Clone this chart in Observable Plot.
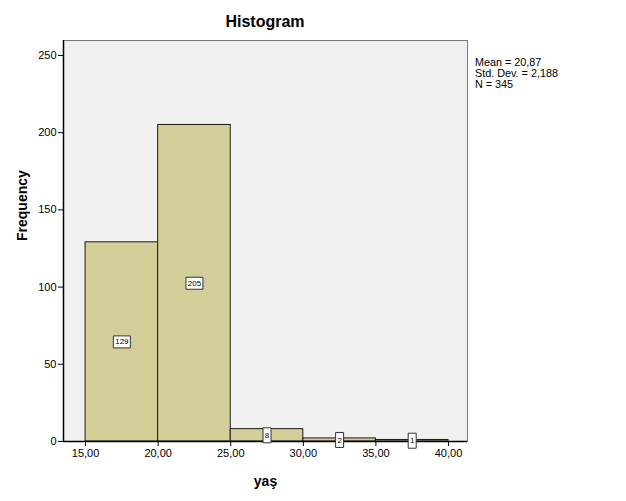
<!DOCTYPE html>
<html>
<head>
<meta charset="utf-8">
<script src="https://cdn.jsdelivr.net/npm/d3@7"></script>
<script src="https://cdn.jsdelivr.net/npm/@observablehq/plot@0.6"></script>
<style>
  html, body { margin: 0; padding: 0; background: #fff; }
  #chart { position: relative; width: 626px; height: 501px; font-family: "Liberation Sans", Arial, sans-serif; }
  #chart svg { position: absolute; left: 0; top: 0; }
  .title { position: absolute; left: 0; width: 530px; top: 13px; text-align: center; font-size: 16px; font-weight: bold; color: #000; }
  .stats { position: absolute; left: 475px; top: 57px; font-size: 10.8px; line-height: 11px; color: #000; }
</style>
</head>
<body>
<div id="chart">
  <div class="title">Histogram</div>
  <div class="stats" id="stats"></div>
</div>
<script>
const binStart = [15, 20, 25, 30, 35];
const binEnd = [20, 25, 30, 35, 40];
const counts = [129, 205, 8, 2, 1];
const xTicks = [15, 20, 25, 30, 35, 40];
const yTicks = [0, 50, 100, 150, 200, 250];
const statsLines = ["Mean = 20,87", "Std. Dev. = 2,188", "N = 345"];
const xLabel = "yaş";
const yLabel = "Frequency";

const data = counts.map((c, i) => ({x1: binStart[i], x2: binEnd[i], n: c, mid: (binStart[i] + binEnd[i]) / 2}));
const xDomain = [13.48, 41.31];
const yDomain = [0, 259.7];
const fmt = v => v.toFixed(2).replace(".", ",");

document.getElementById("stats").innerHTML = statsLines.join("<br>");

const boxSymbol = (hw, hh) => ({
  draw(ctx) {
    ctx.moveTo(-hw, -hh); ctx.lineTo(hw, -hh); ctx.lineTo(hw, hh); ctx.lineTo(-hw, hh); ctx.closePath();
  }
});
const wideBox = boxSymbol(8.5, 6);
const tallBox = boxSymbol(4, 7.5);

const plot = Plot.plot({
  width: 626,
  height: 501,
  marginLeft: 63,
  marginRight: 159,
  marginTop: 40,
  marginBottom: 60,
  style: {fontFamily: "Liberation Sans, Arial, sans-serif", fontSize: "11px", background: "transparent", color: "#000"},
  x: {domain: xDomain, ticks: xTicks, tickFormat: fmt, tickSize: 5, tickPadding: 3, label: null},
  y: {domain: yDomain, ticks: yTicks, tickSize: 5, tickPadding: 2, label: null},
  marks: [
    Plot.frame({fill: "#f0f0f0", stroke: "#777", strokeWidth: 1}),
    Plot.rectY(data, {x1: "x1", x2: "x2", y1: 0, y2: "n", fill: "#d3ce98", stroke: "#1a1a1a", strokeWidth: 1}),
    Plot.ruleX([xDomain[0]], {stroke: "#000", strokeWidth: 1.5}),
    Plot.ruleY([0], {stroke: "#000", strokeWidth: 1.5}),
    Plot.axisX({ticks: xTicks, tickFormat: fmt, tickSize: 5, tickPadding: 3, fontSize: 11, label: null}),
    Plot.axisY({ticks: yTicks, tickSize: 5, tickPadding: 2, fontSize: 11, label: null}),
    Plot.dot(data.filter(d => d.n >= 10), {x: "mid", y: d => d.n / 2, symbol: wideBox, r: 5, fill: "#fff", stroke: "#333", strokeWidth: 1}),
    Plot.dot(data.filter(d => d.n < 10), {x: "mid", y: d => d.n / 2, symbol: tallBox, r: 5, fill: "#fff", stroke: "#333", strokeWidth: 1}),
    Plot.text(data, {x: "mid", y: d => d.n / 2, text: d => String(d.n), fontSize: 8, fill: "#000"}),
    Plot.text([xLabel], {frameAnchor: "bottom", dy: 44, fontSize: 14, fontWeight: "bold", text: d => d}),
    Plot.text([yLabel], {frameAnchor: "left", dx: -41, rotate: -90, fontSize: 14, fontWeight: "bold", text: d => d})
  ]
});
document.getElementById("chart").appendChild(plot);
</script>
</body>
</html>
